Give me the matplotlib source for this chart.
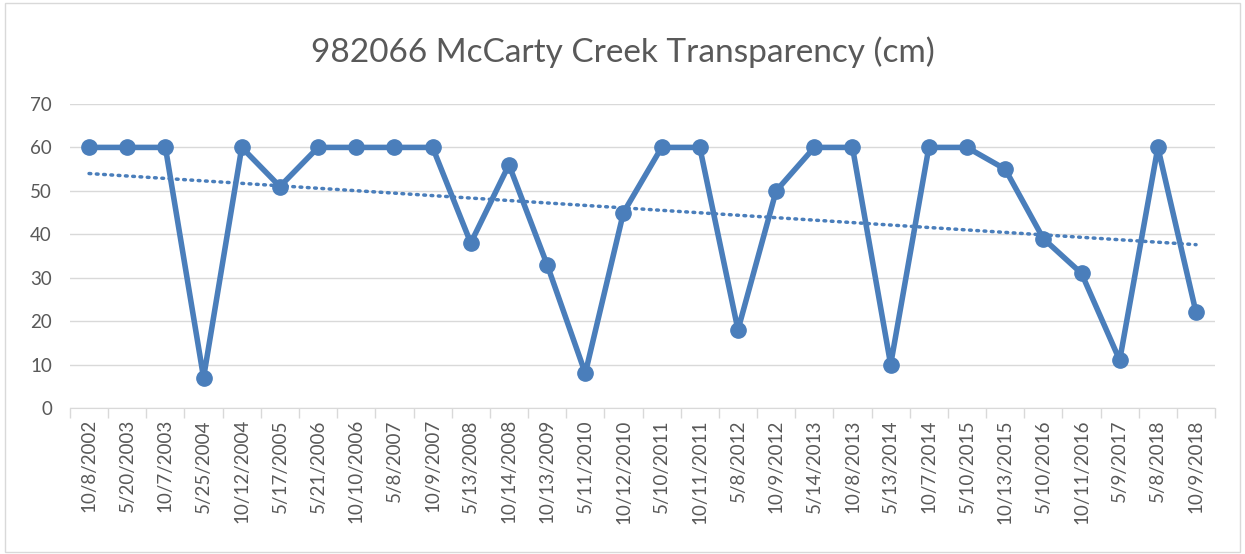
import numpy as np
import matplotlib
matplotlib.use("Agg")
import matplotlib.pyplot as plt
from matplotlib.patches import Rectangle

plt.rcParams['font.family'] = ['Lato', 'DejaVu Sans']

dates = ["10/8/2002", "5/20/2003", "10/7/2003", "5/25/2004", "10/12/2004",
         "5/17/2005", "5/21/2006", "10/10/2006", "5/8/2007", "10/9/2007",
         "5/13/2008", "10/14/2008", "10/13/2009", "5/11/2010", "10/12/2010",
         "5/10/2011", "10/11/2011", "5/8/2012", "10/9/2012", "5/14/2013",
         "10/8/2013", "5/13/2014", "10/7/2014", "5/10/2015", "10/13/2015",
         "5/10/2016", "10/11/2016", "5/9/2017", "5/8/2018", "10/9/2018"]
transparency = [60, 60, 60, 7, 60, 51, 60, 60, 60, 60,
                38, 56, 33, 8, 45, 60, 60, 18, 50, 60,
                60, 10, 60, 60, 55, 39, 31, 11, 60, 22]
y_ticks = [0, 10, 20, 30, 40, 50, 60, 70]

blue = "#4a7ebb"
grey_text = "#595959"

fig = plt.figure(figsize=(12.45, 5.54), dpi=100)
ax = fig.add_axes([0.0562, 0.2635, 0.9198, 0.5488])

x = np.arange(1, len(dates) + 1)
ax.plot(x, transparency, color=blue, lw=4, marker='o', ms=11, zorder=3)

# linear trendline like Excel's
slope, intercept = np.polyfit(x, transparency, 1)
ax.plot(x, slope * x + intercept, color=blue, lw=2.5, ls=(0, (0.5, 1.6)),
        dash_capstyle='round', zorder=2)

ax.set_xlim(0.5, len(dates) + 0.5)
ax.set_ylim(0, 70)
ax.set_yticks(y_ticks)
ax.set_xticks(x)
ax.set_xticklabels(dates, rotation=90)
ax.set_xticks(np.arange(0.5, len(dates) + 1), minor=True)
ax.tick_params(axis='x', which='major', length=0, pad=8)
ax.tick_params(axis='x', which='minor', length=7, color='#d9d9d9', width=1)
ax.tick_params(axis='y', length=0, pad=13)
ax.tick_params(labelsize=13.5, labelcolor=grey_text)
ax.grid(axis='y', color='#d9d9d9', lw=1)
ax.set_axisbelow(True)
for side in ['top', 'right', 'left']:
    ax.spines[side].set_visible(False)
ax.spines['bottom'].set_color('#d9d9d9')

fig.text(0.5, 0.905, "982066 McCarty Creek Transparency (cm)", ha='center',
         va='center', fontsize=24, color=grey_text)

fig.patches.append(Rectangle((0.004, 0.004), 0.992, 0.99, transform=fig.transFigure,
                             fill=False, edgecolor='#d9d9d9', lw=1))

fig.savefig("out.png", dpi=100)
